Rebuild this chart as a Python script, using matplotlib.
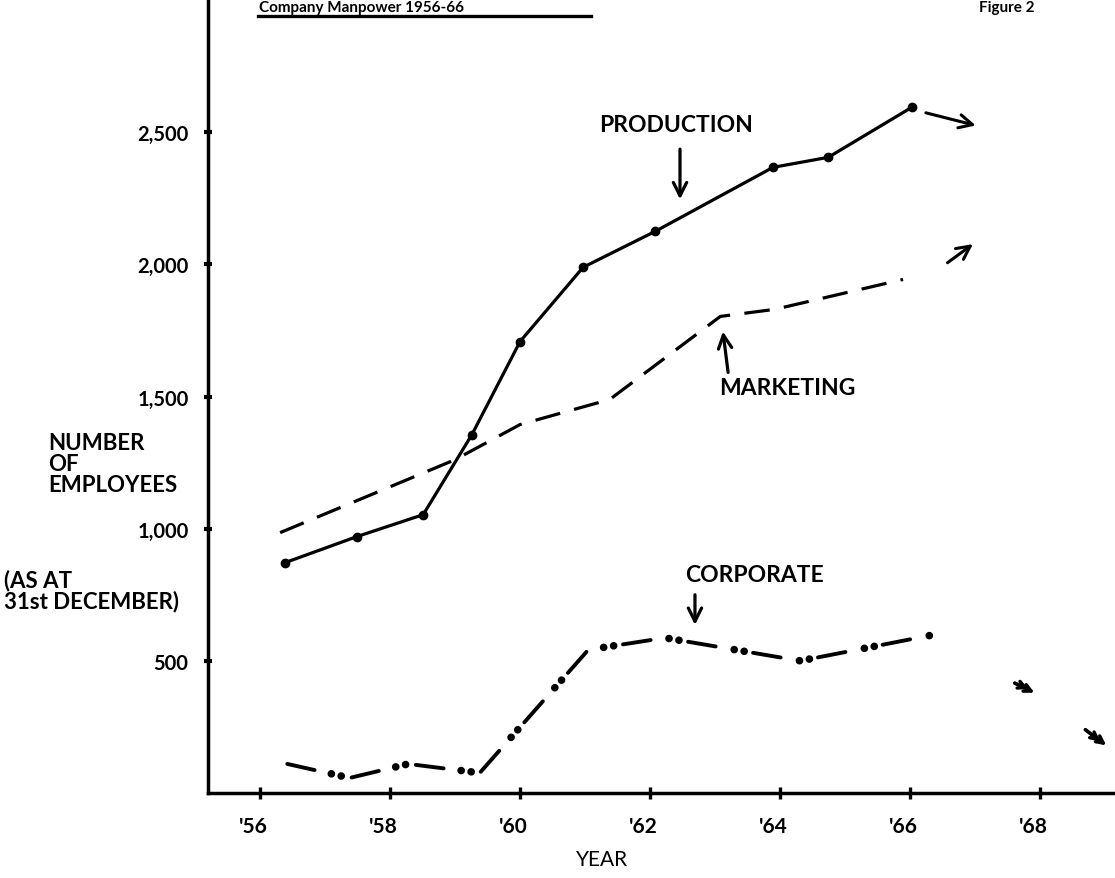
import matplotlib.pyplot as plt
from matplotlib.transforms import ScaledTranslation

plt.rcParams['font.family'] = ['Lato', 'DejaVu Sans']
plt.rcParams['font.weight'] = 'bold'

# Values (year as decimal, number of employees)
prod_year = [56.38, 57.49, 58.51, 59.26, 60.0, 60.97, 62.08, 63.89, 64.74, 66.03]
prod_emp = [871, 970, 1053, 1356, 1708, 1989, 2125, 2367, 2405, 2595]

mkt_year = [56.31, 59.0, 60.0, 61.38, 63.08, 63.92, 65.89]
mkt_emp = [985, 1261, 1394, 1489, 1803, 1830, 1943]

corp_year = [56.42, 57.38, 58.28, 59.38, 61.05, 62.23, 64.31, 66.43]
corp_emp = [110, 57, 110, 76, 542, 587, 500, 602]

year_ticks = [56, 58, 60, 62, 64, 66, 68]
year_labels = ["'56", "'58", "'60", "'62", "'64", "'66", "'68"]
emp_ticks = [500, 1000, 1500, 2000, 2500]
emp_labels = ['500', '1,000', '1,500', '2,000', '2,500']

fig = plt.figure(figsize=(11.15, 8.79), dpi=100)
ax = fig.add_axes([0.1865, 0.0967, 0.8135, 0.9033])
ax.set_xlim(55.2, 69.15)
ax.set_ylim(0, 3004)

ax.plot(prod_year, prod_emp, color='black', lw=2.3, marker='o', ms=6,
        solid_capstyle='round')
ax.plot(mkt_year, mkt_emp, color='black', lw=2.3, linestyle=(0, (8, 4.5)))

# corporate: long dash + two heavy dots, drawn as two dash patterns
ax.plot(corp_year, corp_emp, color='black', lw=2.8,
        linestyle=(0, (7.2, 9.75)), dash_capstyle='round')
ax.plot(corp_year, corp_emp, color='black', lw=5.5,
        linestyle=(2.75, (0.01, 1.31, 0.01, 7.33)), dash_capstyle='round')

# continuation arrows
arrow_kw = dict(arrowstyle='->', color='black', lw=2.2, mutation_scale=24)
ax.annotate('', xy=(67.05, 2523), xytext=(66.2, 2576), arrowprops=arrow_kw)
ax.annotate('', xy=(67.0, 2083), xytext=(66.54, 2000), arrowprops=arrow_kw)
small_kw = dict(arrowstyle='->', color='black', lw=2.4, mutation_scale=13)
for x0, y0, x1, y1 in [(67.57, 420, 67.95, 375), (68.66, 246, 69.05, 174)]:
    ax.annotate('', xy=(x1, y1), xytext=(x0, y0), arrowprops=small_kw)
    ax.annotate('', xy=(x1 - 0.09, y1 + 14), xytext=(x0, y0),
                arrowprops=small_kw)

# series labels
lab_kw = dict(arrowstyle='->', color='black', lw=2.3, mutation_scale=24,
              shrinkA=0, shrinkB=0)
ax.text(62.4, 2530, 'PRODUCTION', ha='center', va='center', fontsize=16.5)
ax.annotate('', xy=(62.46, 2246), xytext=(62.46, 2436), arrowprops=lab_kw)
ax.text(64.11, 1534, 'MARKETING', ha='center', va='center', fontsize=16.5)
ax.annotate('', xy=(63.12, 1746), xytext=(63.2, 1591), arrowprops=lab_kw)
ax.text(63.6, 826, 'CORPORATE', ha='center', va='center', fontsize=16.5)
ax.annotate('', xy=(62.69, 636), xytext=(62.69, 750), arrowprops=lab_kw)

for side in ['top', 'right']:
    ax.spines[side].set_visible(False)
for side in ['left', 'bottom']:
    ax.spines[side].set_linewidth(2.5)

ax.set_xticks(year_ticks)
ax.set_xticklabels(year_labels, fontsize=15)
ax.set_yticks(emp_ticks)
ax.set_yticklabels(emp_labels, fontsize=14.5)
ax.tick_params(axis='x', direction='inout', length=9, width=2.4, pad=12)
ax.tick_params(axis='y', direction='inout', length=6, width=3, pad=11)
shift = ScaledTranslation(-7 / 100, 0, fig.dpi_scale_trans)
for lab in ax.get_xticklabels():
    lab.set_transform(lab.get_transform() + shift)

ax.set_xlabel('YEAR', fontsize=15)
ax.xaxis.set_label_coords(0.435, -0.07)

fig.text(0.043, 0.471, 'NUMBER\nOF\nEMPLOYEES', fontsize=16, va='center',
         ha='left', linespacing=1.0)
fig.text(0.004, 0.328, '(AS AT\n31st DECEMBER)', fontsize=16, va='center',
         ha='left', linespacing=0.95)

# title and figure number along the top edge of the scan
fig.text(0.232, 1 - 1 / 879, 'Company Manpower 1956-66', fontsize=11,
         va='top', ha='left')
fig.add_artist(plt.Line2D([0.231, 0.53], [1 - 17 / 879, 1 - 17 / 879],
                          color='black', lw=2.4))
fig.text(0.878, 1 - 1 / 879, 'Figure 2', fontsize=11, va='top', ha='left')

fig.savefig('out.png', dpi=100)
